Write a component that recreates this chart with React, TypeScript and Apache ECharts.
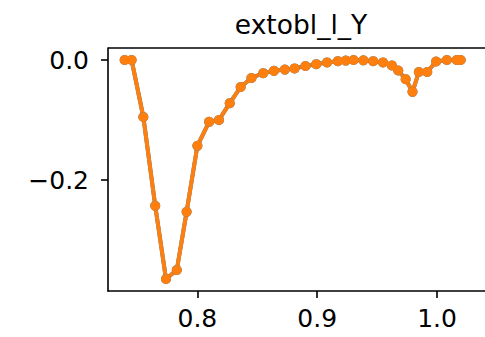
import React, { useEffect, useRef } from "react";
import * as echarts from "echarts";

const xValues = [
  0.7393, 0.7451, 0.7549, 0.7648, 0.7738, 0.7828, 0.791, 0.8, 0.8098, 0.818,
  0.827, 0.8361, 0.8451, 0.8549, 0.8639, 0.873, 0.8811, 0.8902, 0.8992, 0.9082,
  0.9172, 0.9238, 0.9303, 0.9385, 0.9467, 0.9549, 0.9623, 0.9676, 0.9738, 0.9795,
  0.9848, 0.9918, 0.9992, 1.0082, 1.0164, 1.0197,
];
const yValues = [
  0, 0, -0.095, -0.243, -0.365, -0.35, -0.253, -0.143, -0.103, -0.1,
  -0.072, -0.045, -0.03, -0.022, -0.018, -0.016, -0.014, -0.01, -0.007, -0.004,
  -0.002, -0.001, 0, -0.0005, -0.002, -0.004, -0.009, -0.0175, -0.032, -0.053,
  -0.02, -0.02, -0.0025, 0, 0, 0,
];
const xTicks = [0.8, 0.9, 1.0];
const yTicks = [-0.2, 0];
const title = "extobl_l_Y";

export default function App() {
  const ref = useRef<HTMLDivElement>(null);
  useEffect(() => {
    const chart = echarts.init(ref.current!, null, { renderer: "svg" });
    const data = xValues.map((x, i) => [x, yValues[i]]);
    const font = "DejaVu Sans";
    chart.setOption({
      animation: false,
      title: {
        text: title,
        left: 296,
        textAlign: "center",
        top: 6,
        textStyle: { fontFamily: font, fontSize: 26.5, fontWeight: "normal", color: "#000" },
      },
      grid: { left: 108, top: 48, width: 384, height: 243 },
      xAxis: {
        type: "value",
        min: 0.7254,
        max: 1.04,
        axisLine: { show: true, onZero: false, lineStyle: { color: "#000", width: 1.6 } },
        axisTick: { show: true, length: 7, customValues: xTicks, lineStyle: { color: "#000", width: 1.6 } },
        axisLabel: {
          customValues: xTicks,
          formatter: (v: number) => v.toFixed(1),
          fontFamily: font,
          fontSize: 25,
          color: "#000",
          margin: 15,
        },
        splitLine: { show: false },
      },
      yAxis: {
        type: "value",
        min: -0.385,
        max: 0.02,
        axisLine: { show: true, onZero: false, lineStyle: { color: "#000", width: 1.6 } },
        axisTick: { show: true, length: 7, customValues: yTicks, lineStyle: { color: "#000", width: 1.6 } },
        axisLabel: {
          customValues: yTicks,
          formatter: (v: number) => (v < 0 ? "\u2212" + Math.abs(v).toFixed(1) : v.toFixed(1)),
          fontFamily: font,
          fontSize: 25,
          color: "#000",
          margin: 19,
        },
        splitLine: { show: false },
      },
      graphic: [
        {
          type: "line",
          shape: { x1: 108, y1: 48, x2: 485, y2: 48 },
          style: { stroke: "#000", lineWidth: 1.6 },
        },
      ],
      series: [
        {
          type: "line",
          data,
          color: "#1f77b4",
          symbol: "circle",
          symbolSize: 10,
          lineStyle: { width: 4 },
          itemStyle: { color: "#1f77b4" },
        },
        {
          type: "line",
          data,
          color: "#ff7f0e",
          symbol: "circle",
          symbolSize: 10,
          lineStyle: { width: 4 },
          itemStyle: { color: "#ff7f0e" },
        },
      ],
    });
    return () => chart.dispose();
  }, []);
  return (
    <div
      ref={ref}
      style={{ position: "fixed", left: 0, top: 0, width: 485, height: 337, background: "#fff" }}
    />
  );
}
